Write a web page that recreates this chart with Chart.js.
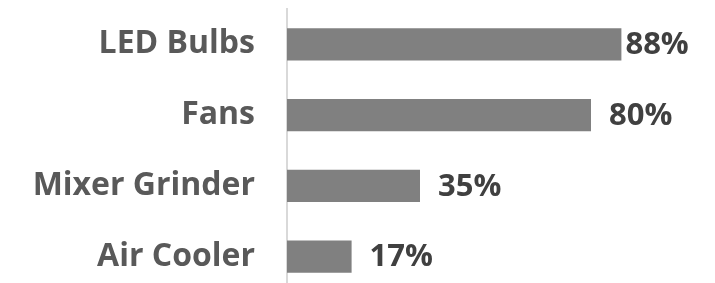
<!DOCTYPE html>
<html>
<head>
<meta charset="utf-8">
<script src="https://cdn.jsdelivr.net/npm/chart.js@4"></script>
<style>
  html, body { margin: 0; padding: 0; background: #fff; overflow: hidden; }
  #wrap { width: 715px; height: 283px; overflow: hidden; }
</style>
</head>
<body>
<div id="wrap"><canvas id="chart" width="715" height="292"></canvas></div>
<script>
const categories = ["LED Bulbs", "Fans", "Mixer Grinder", "Air Cooler"];
const shares = [88, 80, 35, 17];

const FONT = "'Open Sans', sans-serif";

// value labels at the end of each bar
const valueLabels = {
  id: "valueLabels",
  afterDatasetsDraw(chart) {
    const ctx = chart.ctx;
    const meta = chart.getDatasetMeta(0);
    ctx.save();
    ctx.font = "bold 31px " + FONT;
    ctx.fillStyle = "#404040";
    ctx.textBaseline = "middle";
    meta.data.forEach((bar, i) => {
      const txt = shares[i] + "%";
      const w = ctx.measureText(txt).width;
      let x = bar.x + 18;
      const limit = chart.width - 27;
      if (x + w > limit) x = Math.max(bar.x + 4, limit - w);
      ctx.fillText(txt, x, bar.y + 1);
    });
    ctx.restore();
  }
};

new Chart(document.getElementById("chart"), {
  type: "bar",
  data: {
    labels: categories,
    datasets: [{
      data: shares,
      backgroundColor: "#808080",
      categoryPercentage: 1,
      barPercentage: 0.453
    }]
  },
  options: {
    indexAxis: "y",
    responsive: false,
    animation: false,
    layout: { padding: { top: 9, right: 48, bottom: 0, left: 0 } },
    plugins: { legend: { display: false }, tooltip: { enabled: false } },
    scales: {
      x: { display: false, min: 0, max: 100 },
      y: {
        grid: { display: false, drawTicks: false },
        border: { display: true, color: "#d9d9d9", width: 2 },
        ticks: {
          padding: 32,
          color: "#595959",
          font: { family: FONT, size: 32, weight: "bold" }
        },
        afterFit(scale) {
          scale.width = 287;
          scale.paddingTop = 0;
          scale.paddingBottom = 0;
        }
      }
    }
  },
  plugins: [valueLabels]
});
</script>
</body>
</html>
